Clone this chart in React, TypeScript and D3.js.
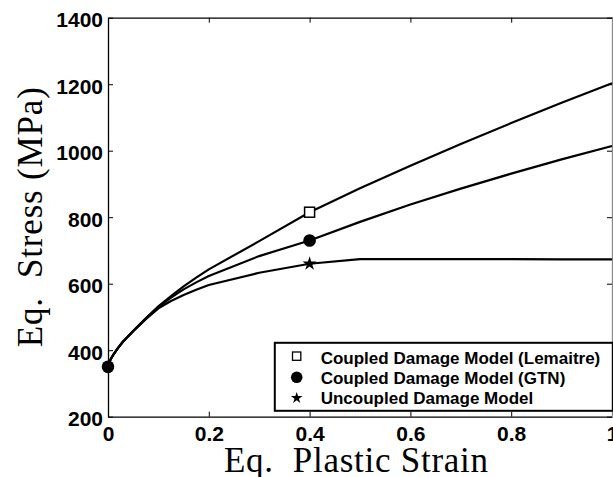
import React, { useEffect, useRef } from "react";
import * as d3 from "d3";

const strain = [0, 0.005, 0.01, 0.02, 0.03, 0.05, 0.075, 0.1, 0.125, 0.15, 0.175, 0.2, 0.3, 0.4, 0.5, 0.6, 0.7, 0.8, 0.9, 1.0];
const lemaitre = [350, 372, 385, 407, 426, 458, 496, 532, 563, 592, 618, 643, 728, 815, 887, 955, 1020, 1083, 1144, 1203];
const gtn = [350, 372, 385, 407, 426, 458, 495, 530, 558, 583, 604, 623, 683, 730, 786, 838, 886, 931, 974, 1014];
const uncoupled = [350, 372, 385, 407, 426, 457, 493, 526, 548, 566, 582, 596, 633, 660, 674, 674, 674, 674, 673, 673];

const xTicks = [0, 0.2, 0.4, 0.6, 0.8, 1];
const yTicks = [200, 400, 600, 800, 1000, 1200, 1400];

const markerStrain = 0.4;
const legendLabels = [
  "Coupled Damage Model (Lemaitre)",
  "Coupled Damage Model (GTN)",
  "Uncoupled Damage Model",
];

const W = 613;
const H = 477;
const L = 108;
const R = 612;
const T = 17.7;
const B = 416.7;

export default function App() {
  const x = d3.scaleLinear().domain([0, 1]).range([L, R]);
  const y = d3.scaleLinear().domain([200, 1400]).range([B, T]);
  const leftRef = useRef<SVGGElement>(null);
  const bottomRef = useRef<SVGGElement>(null);
  const topRef = useRef<SVGGElement>(null);
  const rightRef = useRef<SVGGElement>(null);

  useEffect(() => {
    const style = (g: any) => {
      g.selectAll("path.domain").attr("stroke", "#000").attr("stroke-width", 1.3);
      g.selectAll(".tick line").attr("stroke", "#000").attr("stroke-width", 1);
      g.selectAll(".tick text")
        .attr("fill", "#000")
        .style("font-family", "'Liberation Sans', Arial, sans-serif")
        .style("font-weight", "bold")
        .style("font-size", "21px");
    };
    const gl = d3.select(leftRef.current);
    gl.call(d3.axisLeft(y).tickValues(yTicks).tickSizeInner(-5).tickSizeOuter(0).tickPadding(5).tickFormat(d3.format("d")) as any);
    style(gl);
    gl.selectAll(".tick text").attr("dy", "0.42em");
    const gb = d3.select(bottomRef.current);
    gb.call(d3.axisBottom(x).tickValues(xTicks).tickSizeInner(-5).tickSizeOuter(0).tickPadding(9).tickFormat((d: any) => (d === 0 || d === 1 ? String(d) : d3.format(".1f")(d))) as any);
    style(gb);
    const gt = d3.select(topRef.current);
    gt.call(d3.axisTop(x).tickValues(xTicks).tickSizeInner(-5).tickSizeOuter(0).tickFormat(() => "") as any);
    style(gt);
    const gr = d3.select(rightRef.current);
    gr.call(d3.axisRight(y).tickValues(yTicks).tickSizeInner(-5).tickSizeOuter(0).tickFormat(() => "") as any);
    style(gr);
    gr.selectAll("path.domain").attr("stroke", "#888");
  }, []);

  const line = d3
    .line<number>()
    .x((_, i) => x(strain[i]))
    .y((d) => y(d));

  const idx = strain.indexOf(markerStrain);
  const star = d3.symbol().type(d3.symbolStar);

  return (
    <svg width={W} height={H} style={{ position: "absolute", left: 0, top: 0, background: "#fff" }}>
      <rect x={0} y={0} width={W} height={H} fill="#fff" />
      <g ref={leftRef} transform={`translate(${L},0)`} />
      <g ref={bottomRef} transform={`translate(0,${B})`} />
      <g ref={topRef} transform={`translate(0,${T})`} />
      <g ref={rightRef} transform={`translate(${R},0)`} />
      {[lemaitre, gtn, uncoupled].map((s, k) => (
        <path key={k} d={line(s) || ""} fill="none" stroke="#000" strokeWidth={2.2} strokeLinejoin="round" />
      ))}
      <rect x={x(markerStrain) - 5} y={y(lemaitre[idx]) - 5} width={10} height={10} fill="#fff" stroke="#000" strokeWidth={1.5} />
      <circle cx={x(markerStrain)} cy={y(gtn[idx])} r={6.3} fill="#000" />
      <path d={star.size(62)() || ""} transform={`translate(${x(markerStrain)},${y(uncoupled[idx])})`} fill="#000" />
      <circle cx={x(0)} cy={y(gtn[0])} r={6.3} fill="#000" />

      <g>
        <rect x={274.8} y={342.8} width={338} height={68} fill="#fff" stroke="#000" strokeWidth={2} />
        <rect x={292.5} y={352} width={8.3} height={8.3} fill="#fff" stroke="#000" strokeWidth={1.3} />
        <circle cx={296.7} cy={377.3} r={5.8} fill="#000" />
        <path d={star.size(42)() || ""} transform="translate(296.7,398)" fill="#000" />
        {legendLabels.map((t, i) => (
          <text
            key={i}
            x={320.7}
            y={364 + i * 19.9}
            style={{ fontFamily: "'Liberation Sans', Arial, sans-serif", fontWeight: "bold", fontSize: "17px" }}
            fill="#000"
          >
            {t}
          </text>
        ))}
      </g>

      <text
        x={(L + R) / 2 - 4}
        y={471.7}
        textAnchor="middle"
        style={{ fontFamily: "'Liberation Serif', 'Times New Roman', serif", fontSize: "35px", whiteSpace: "pre" }}
        fill="#000"
        textLength={264}
        lengthAdjust="spacing"
      >
        Eq.  Plastic Strain
      </text>
      <text
        transform={`translate(42,${(T + B) / 2}) rotate(-90)`}
        textAnchor="middle"
        style={{ fontFamily: "'Liberation Serif', 'Times New Roman', serif", fontSize: "35px", whiteSpace: "pre" }}
        fill="#000"
        textLength={260}
        lengthAdjust="spacing"
      >
        Eq.  Stress (MPa)
      </text>
    </svg>
  );
}
